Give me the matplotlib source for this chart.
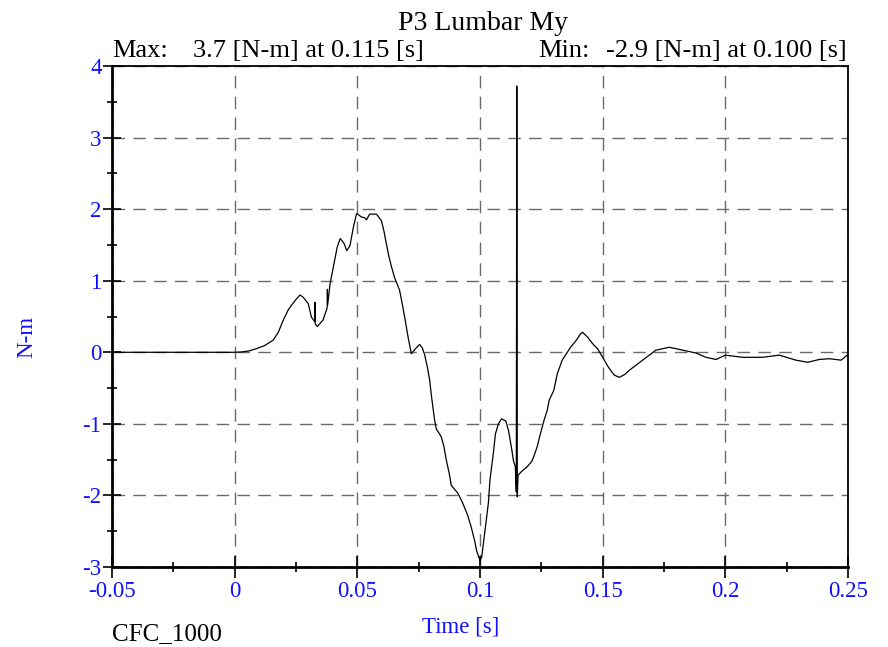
import matplotlib
matplotlib.use("Agg")
import matplotlib.pyplot as plt
from matplotlib.ticker import MultipleLocator, FixedLocator

# ---- data ----
time_s = [-0.05, 0.0, 0.003, 0.0060, 0.0088, 0.0120, 0.0157, 0.0178, 0.0198, 0.0218,
          0.0232, 0.0253, 0.0266, 0.0279, 0.0300, 0.0313, 0.0326, 0.0327, 0.0328, 0.0337,
          0.0360, 0.0377, 0.0378, 0.0379, 0.0389, 0.0397, 0.0418, 0.0430, 0.0446, 0.0457,
          0.0470, 0.0484, 0.0497, 0.0517, 0.0530, 0.0537, 0.0550, 0.0578, 0.0598, 0.0608,
          0.0618, 0.0628, 0.0638, 0.0651, 0.0672, 0.0683, 0.0693, 0.0707, 0.0720, 0.0737,
          0.0754, 0.0765, 0.0774, 0.0785, 0.0795, 0.0801, 0.0808, 0.0815, 0.0822, 0.0842,
          0.0853, 0.0863, 0.0875, 0.0883, 0.0910, 0.0930, 0.0950, 0.0964, 0.0978, 0.0986,
          0.1000, 0.1007, 0.1014, 0.1024, 0.1034, 0.1041, 0.1054, 0.1063, 0.1075, 0.1088,
          0.1105, 0.1116, 0.1130, 0.1136, 0.1144, 0.1148, 0.1150, 0.1152, 0.1155, 0.1168,
          0.1192, 0.1210, 0.1219, 0.1233, 0.1243, 0.1261, 0.1274, 0.1282, 0.1301, 0.1315,
          0.1335, 0.1356, 0.1369, 0.1393, 0.1410, 0.1418, 0.1439, 0.1459, 0.1479, 0.1500,
          0.1520, 0.1534, 0.1548, 0.1568, 0.1590, 0.1609, 0.1636, 0.1663, 0.1690, 0.1717,
          0.1745, 0.1772, 0.1826, 0.1880, 0.1921, 0.1962, 0.2000, 0.2071, 0.2152, 0.2220,
          0.2288, 0.2336, 0.2383, 0.2424, 0.2472, 0.2500]
moment_nm = [0.0, 0.0, 0.005, 0.02, 0.05, 0.09, 0.17, 0.28, 0.45, 0.59,
             0.66, 0.75, 0.80, 0.77, 0.68, 0.49, 0.43, 0.70, 0.40, 0.36,
             0.45, 0.62, 0.88, 0.66, 0.96, 1.10, 1.47, 1.59, 1.52, 1.42,
             1.49, 1.75, 1.94, 1.89, 1.88, 1.85, 1.93, 1.93, 1.84, 1.70,
             1.52, 1.35, 1.21, 1.05, 0.87, 0.68, 0.49, 0.21, -0.02, 0.05,
             0.11, 0.06, -0.03, -0.20, -0.39, -0.58, -0.76, -0.95, -1.07, -1.18,
             -1.32, -1.51, -1.70, -1.86, -1.97, -2.11, -2.28, -2.44, -2.63, -2.77,
             -2.91, -2.86, -2.67, -2.39, -2.11, -1.77, -1.42, -1.14, -1.00, -0.93,
             -0.96, -1.09, -1.37, -1.51, -1.60, -1.95, 3.72, -2.02, -1.72, -1.67,
             -1.60, -1.53, -1.46, -1.32, -1.18, -0.95, -0.81, -0.67, -0.53, -0.30,
             -0.11, 0.00, 0.07, 0.17, 0.26, 0.28, 0.21, 0.12, 0.05, -0.07,
             -0.19, -0.26, -0.32, -0.35, -0.31, -0.25, -0.18, -0.11, -0.04, 0.03,
             0.05, 0.07, 0.03, -0.01, -0.07, -0.10, -0.04, -0.07, -0.07, -0.04,
             -0.11, -0.14, -0.10, -0.09, -0.11, -0.03]

x_ticks = [-0.05, 0.0, 0.05, 0.1, 0.15, 0.2, 0.25]
x_tick_labels = ["-0.05", "0", "0.05", "0.1", "0.15", "0.2", "0.25"]
y_ticks = [-3, -2, -1, 0, 1, 2, 3, 4]
y_tick_labels = ["-3", "-2", "-1", "0", "1", "2", "3", "4"]

title = "P3 Lumbar My"
max_label = "Max:"
max_text = "3.7 [N-m] at 0.115 [s]"
min_label = "Min:"
min_text = "-2.9 [N-m] at 0.100 [s]"
filter_text = "CFC_1000"
x_label = "Time [s]"
y_label = "N-m"

# ---- figure ----
W, H = 888, 647
plt.rcParams['font.family'] = ['Liberation Serif', 'DejaVu Serif']
fig = plt.figure(figsize=(W / 100, H / 100), dpi=100)
ax = fig.add_axes([112 / W, 1 - 567 / H, (848 - 112) / W, (567 - 66) / H])

ax.plot(time_s, moment_nm, color='black', lw=0.9, zorder=3)

ax.set_xlim(-0.05, 0.25)
ax.set_ylim(-3, 4)
ax.xaxis.set_major_locator(FixedLocator(x_ticks))
ax.set_xticklabels(x_tick_labels)
ax.yaxis.set_major_locator(FixedLocator(y_ticks))
ax.set_yticklabels(y_tick_labels)
ax.xaxis.set_minor_locator(MultipleLocator(0.025))
ax.yaxis.set_minor_locator(MultipleLocator(0.5))

ax.tick_params(axis='x', which='major', direction='inout', length=16, width=1.2,
               labelsize=16.5, labelcolor='#1010ff', pad=2, top=False)
ax.tick_params(axis='x', which='minor', direction='inout', length=7, width=1.2, top=False)
ax.tick_params(axis='y', which='major', direction='inout', length=13, width=1.2,
               labelsize=16.5, labelcolor='#1010ff', pad=1, right=False)
ax.tick_params(axis='y', which='minor', direction='inout', length=7, width=1.2, right=False)

for side in ['bottom', 'left']:
    ax.spines[side].set_linewidth(2.0)
for side in ['top', 'right']:
    ax.spines[side].set_linewidth(1.3)

ax.grid(True, which='major', color='#6a6a6a', lw=1.0, linestyle=(0, (9, 6)))
ax.set_axisbelow(True)

# ---- texts ----
def fx(px):
    return px / W

def fy(py):
    return 1 - py / H

fig.text(fx(483), fy(30), title, ha='center', va='baseline', fontsize=20)
fig.text(fx(112), fy(57), max_label, ha='left', va='baseline', fontsize=19)
fig.text(fx(193), fy(57), max_text, ha='left', va='baseline', fontsize=19)
fig.text(fx(538), fy(57), min_label, ha='left', va='baseline', fontsize=19)
fig.text(fx(847), fy(57), min_text, ha='right', va='baseline', fontsize=19)
fig.text(fx(112), fy(640), filter_text, ha='left', va='baseline', fontsize=18)
fig.text(fx(461), fy(632), x_label, ha='center', va='baseline', fontsize=16.5, color='#1010ff')
fig.text(fx(27), fy(337), y_label, ha='center', va='center', rotation=90,
         fontsize=16.5, color='#1010ff')

fig.savefig("out.png", dpi=100)
